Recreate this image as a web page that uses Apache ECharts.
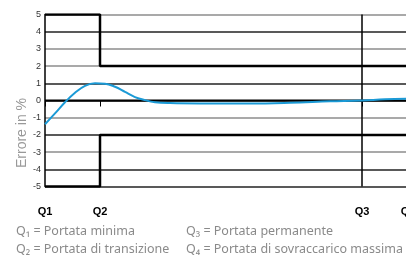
<!DOCTYPE html>
<html>
<head>
<meta charset="utf-8">
<script src="https://cdn.jsdelivr.net/npm/echarts@6/dist/echarts.min.js"></script>
<style>
html,body{margin:0;padding:0;background:#fff;}
#main{width:406px;height:261px;}
</style>
</head>
<body>
<div id="main"></div>
<script>
// positions of the flow marks on the x scale
var qNames = ['Q1', 'Q2', 'Q3', 'Q4'];
var qPos = [0, 55, 317, 363];
var xMax = 371;

// tolerance limits (step shape)
var upperLimit = [[0, 5], [55, 5], [55, 2], [371, 2]];
var lowerLimit = [[0, -5], [55, -5], [55, -2], [371, -2]];
var q3Line = [[317, 5], [317, -5]];
var zeroLine = [[0, 0], [371, 0]];

// measured error curve
var errX = [0, 10, 20, 30, 40, 50, 60, 70, 80, 90, 100, 110, 125, 155, 205, 245, 285, 317, 340, 371];
var errY = [-1.38, -0.75, -0.1, 0.45, 0.85, 1.0, 0.98, 0.8, 0.5, 0.2, 0.02, -0.1, -0.15, -0.17, -0.17, -0.13, -0.05, 0.0, 0.07, 0.11];

var yTicks = [-5, -4, -3, -2, -1, 0, 1, 2, 3, 4, 5];
var gridColors = ['#222', '#222', '#8c8c8c', '#222', '#8c8c8c', '#222', '#222', '#8c8c8c', '#8c8c8c', '#222', '#8c8c8c'];

var legendLeft = ['Q\u2081 = Portata minima', 'Q\u2082 = Portata di transizione'];
var legendRight = ['Q\u2083 = Portata permanente', 'Q\u2084 = Portata di sovraccarico massima'];

var myChart = echarts.init(document.getElementById('main'));

function blackLine(data, w) {
    return {
        type: 'line',
        data: data,
        symbol: 'none',
        silent: true,
        lineStyle: {color: '#000', width: w},
        z: 3
    };
}

var errData = errX.map(function (x, i) { return [x, errY[i]]; });

var option = {
    animation: false,
    grid: {left: 45, width: 371, top: 14.5, height: 172, containLabel: false, outerBoundsMode: 'none'},
    xAxis: {
        type: 'value',
        min: 0,
        max: xMax,
        offset: 6,
        axisLine: {show: false},
        splitLine: {show: false},
        axisTick: {show: true, length: 6, customValues: qPos.slice(0, 3), lineStyle: {color: '#000', width: 1}},
        axisLabel: {
            customValues: qPos,
            margin: 14,
            fontFamily: 'Liberation Sans',
            fontSize: 11,
            fontWeight: 'bold',
            color: '#000',
            hideOverlap: false,
            formatter: function (v) {
                var i = qPos.indexOf(v);
                return i >= 0 ? qNames[i] : '';
            }
        }
    },
    yAxis: {
        type: 'value',
        min: -5,
        max: 5,
        interval: 1,
        axisLine: {show: true, lineStyle: {color: '#000', width: 1.5}},
        axisTick: {show: false},
        axisLabel: {margin: 4, fontFamily: 'Liberation Sans', fontSize: 9, color: '#333'},
        splitLine: {show: true, lineStyle: {color: gridColors, width: 1.5}}
    },
    graphic: [
        {
            type: 'text', x: 15, y: 133, rotation: Math.PI / 2,
            style: {text: 'Errore in %', fontFamily: 'Liberation Sans', fontSize: 14, fill: '#999', align: 'center', verticalAlign: 'top'}
        },
        {type: 'text', left: 16, top: 225, style: {text: legendLeft[0], fontFamily: 'Noto Sans', fontSize: 12.5, fill: '#8a8a8a'}},
        {type: 'text', left: 16, top: 243, style: {text: legendLeft[1], fontFamily: 'Noto Sans', fontSize: 12.5, fill: '#8a8a8a'}},
        {type: 'text', left: 186, top: 225, style: {text: legendRight[0], fontFamily: 'Noto Sans', fontSize: 12.5, fill: '#8a8a8a'}},
        {type: 'text', left: 186, top: 243, style: {text: legendRight[1], fontFamily: 'Noto Sans', fontSize: 12.5, fill: '#8a8a8a'}}
    ],
    series: [
        blackLine(zeroLine, 2),
        blackLine(q3Line, 1.5),
        blackLine(upperLimit, 2.5),
        blackLine(lowerLimit, 2.5),
        {
            type: 'line',
            data: errData,
            smooth: 0.4,
            symbol: 'none',
            silent: true,
            lineStyle: {color: '#1b9ad6', width: 2},
            z: 4
        }
    ]
};

myChart.setOption(option);
</script>
</body>
</html>
